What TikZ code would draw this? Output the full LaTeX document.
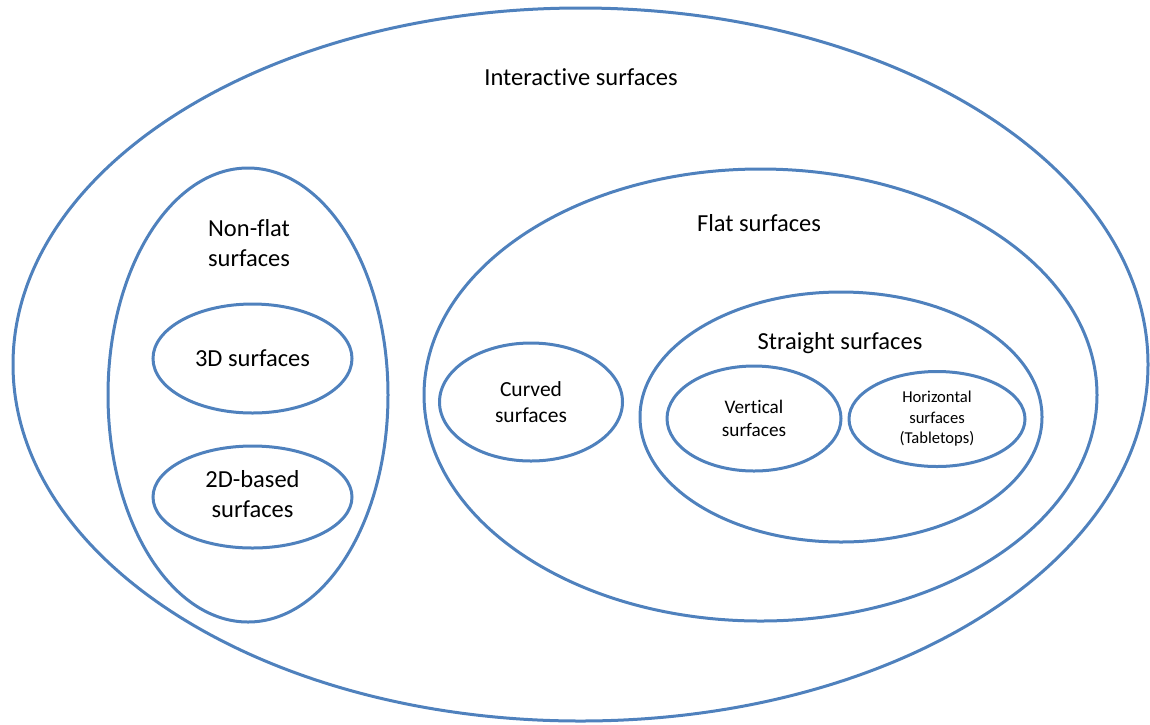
\documentclass[tikz,border=0pt]{standalone}
\usepackage{fontspec}
\setmainfont{Carlito}[Ligatures=NoCommon]
\usetikzlibrary{shapes.geometric}
\definecolor{setblue}{HTML}{4F81BD}
\begin{document}
\begin{tikzpicture}[x=1pt,y=-1pt,
  setshape/.style={ellipse, draw=setblue, line width=3pt, inner sep=0pt, align=center},
  bigfont/.style={font=\fontsize{24.5}{30}\selectfont},
  midfont/.style={font=\fontsize{21.5}{26}\selectfont},
  smallfont/.style={font=\fontsize{19.2}{23.5}\selectfont},
  tinyfont/.style={font=\fontsize{16.6}{20.5}\selectfont},
  lbl/.style={inner sep=0pt, align=center}]
\useasboundingbox (0,0) rectangle (1150,724);
% outer
\node[setshape, minimum width=1135pt, minimum height=713pt] (outer) at (580.5,364.5) {};
\node[lbl, bigfont] (outerlbl) at (581,77) {Interactive surfaces};
% non-flat
\node[setshape, minimum width=280pt, minimum height=454pt] (nonflat) at (248,395) {};
\node[lbl, bigfont] (nonflatlbl) at (249,243) {Non-flat\\surfaces};
\node[setshape, bigfont, minimum width=199pt, minimum height=109pt] (threed) at (252.5,358.5) {3D surfaces};
\node[setshape, minimum width=199pt, minimum height=102pt] (twod) at (252.5,497) {};
\node[lbl, bigfont] (twodlbl) at (252.5,494.5) {2D-based\\surfaces};
% flat
\node[setshape, minimum width=673pt, minimum height=452pt] (flat) at (760.5,395) {};
\node[lbl, bigfont] (flatlbl) at (759,223) {Flat surfaces};
\node[setshape, midfont, minimum width=183pt, minimum height=118pt] (curved) at (531,402) {Curved\\surfaces};
% straight
\node[setshape, minimum width=402pt, minimum height=250pt] (straight) at (841,417) {};
\node[lbl, bigfont] (straightlbl) at (840,343) {Straight surfaces};
\node[setshape, smallfont, minimum width=174pt, minimum height=105pt] (vertical) at (754,418.5) {Vertical\\surfaces};
\node[setshape, tinyfont, minimum width=176pt, minimum height=95pt] (horizontal) at (937,419) {Horizontal\\surfaces\\(Tabletops)};
\end{tikzpicture}
\end{document}
